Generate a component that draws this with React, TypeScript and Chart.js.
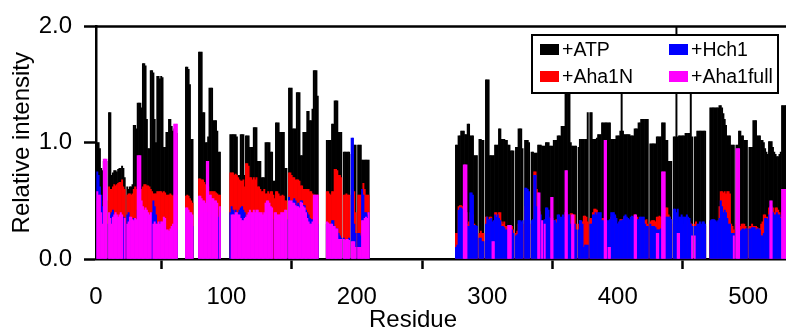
import React, { useEffect, useRef } from 'react';
import { Chart, registerables } from 'chart.js';

Chart.register(...registerables);

const FONT = '"Liberation Sans", Arial, Helvetica, sans-serif';

// Residue numbering of the two assigned segments
const startA = 1;
const startB = 276;

const seriesNames = ['+ATP', '+Aha1N', '+Hch1', '+Aha1full'];
const seriesColors = ['#000000', '#ff0000', '#0000ff', '#ff00ff'];
const xTicks = [0, 100, 200, 300, 400, 500];
const yTicks = [0, 1, 2];

// ---- Segment A : residues 1..209 ----
const atpA = [
  1.00, 1.00, 0.95, 0.78, 0.76, 0.84, 0.84, 0.84, null, 1.26,
  1.26, 0.72, 0.74, 0.76, 0.76, 0.75, 0.77, 0.78, 0.78, 0.80,
  0.78, 0.70, null, 0.62, 0.60, 0.62, 0.62, 0.64, 1.15, 1.15,
  1.12, 1.34, 1.34, 1.34, 1.30, 1.68, 1.68, 1.66, 1.20, 0.95,
  0.95, 1.62, 1.62, 1.60, 1.20, 1.00, 1.57, 1.57, 1.55, 1.57,
  1.56, 0.96, 0.96, 1.09, 1.09, 1.20, 1.20, 1.14, 1.10, 1.12,
  1.10, 1.08, null, null, null, null, null, null, 1.65, 1.65,
  1.63, 1.50, 1.03, 1.03, null, null, null, null, 1.78, 1.78,
  1.78, 1.26, 1.26, 1.00, 1.00, 1.05, 1.47, 1.47, 1.47, 1.19,
  1.19, 1.19, 1.10, 0.92, 0.92, null, null, null, null, null,
  null, null, 1.07, 1.07, 1.07, 1.07, 1.07, 1.05, 0.72, 0.72,
  1.07, 1.07, 1.07, 0.72, 1.06, 1.06, 1.06, 0.96, 0.96, 0.96,
  1.13, 1.13, 1.13, 0.84, 0.84, 0.84, 0.70, 0.70, 0.70, 1.00,
  1.00, 1.00, 1.00, 0.92, 0.92, 0.67, 0.67, 1.17, 1.17, 1.17,
  1.09, 1.09, 1.09, 1.09, 0.78, 0.78, null, 1.47, 1.47, 1.47,
  1.12, 1.12, 1.12, 1.43, 1.43, 1.43, 0.89, 0.89, 1.09, 1.09,
  1.09, 1.27, 1.27, 1.19, 1.19, 1.29, 1.62, 1.62, 1.62, 1.40,
  null, null, null, null, null, null, 1.02, 1.02, 1.02, 1.02,
  1.16, 1.16, 1.36, 1.36, 1.36, 1.09, 1.09, 1.09, null, 0.92,
  0.92, 0.92, 0.92, 0.92, null, 0.90, 0.90, 0.98, 0.98, null,
  0.98, 0.98, 0.98, 0.85, 0.85, 0.85, 0.85, 0.85, 0.85,
];
const aha1nA = [
  0.50, 0.50, 0.45, 0.40, 0.35, 0.50, 0.50, 0.50, null, 0.62,
  0.60, 0.60, 0.62, 0.64, 0.63, 0.64, 0.65, 0.66, 0.66, 0.68,
  0.62, 0.60, null, 0.55, 0.56, 0.56, 0.55, 0.56, 0.60, 0.62,
  0.60, 0.62, 0.62, 0.58, 0.60, 0.62, 0.64, 0.64, 0.63, 0.63,
  0.62, 0.60, 0.58, 0.56, 0.56, 0.56, 0.58, 0.58, 0.58, 0.58,
  0.57, 0.58, 0.57, 0.55, 0.55, 0.55, 0.56, 0.55, 0.54, 0.55,
  0.55, 0.55, null, null, null, null, null, null, 0.54, 0.55,
  0.54, 0.52, 0.50, 0.48, null, null, null, null, 0.69, 0.69,
  0.68, 0.68, 0.66, 0.64, 0.62, 0.62, 0.58, 0.58, 0.58, 0.58,
  0.58, 0.57, 0.56, 0.55, 0.55, null, null, null, null, null,
  null, null, 0.74, 0.74, 0.74, 0.72, 0.73, 0.72, 0.70, 0.68,
  0.67, 0.67, 0.68, 0.62, 0.82, 0.82, 0.80, 0.70, 0.70, 0.68,
  0.70, 0.68, 0.70, 0.62, 0.62, 0.60, 0.58, 0.58, 0.60, 0.56,
  0.56, 0.58, 0.56, 0.58, 0.58, 0.55, 0.52, 0.58, 0.58, 0.56,
  0.54, 0.54, 0.55, 0.54, 0.50, 0.50, null, 0.74, 0.74, 0.72,
  0.70, 0.70, 0.68, 0.68, 0.68, 0.67, 0.63, 0.63, 0.60, 0.60,
  0.60, 0.60, 0.60, 0.58, 0.58, 0.56, 0.55, 0.55, 0.55, 0.55,
  null, null, null, null, null, null, 0.58, 0.58, 0.56, 0.55,
  0.58, 0.58, 0.77, 0.77, 0.76, 0.72, 0.72, 0.70, null, 0.55,
  0.55, 0.56, 0.55, 0.55, null, 0.55, 0.60, 0.58, 0.40, null,
  0.55, 0.55, 0.55, 0.55, 0.65, 0.60, 0.55, 0.55, 0.55,
];
const hch1A = [
  0.75, 0.72, 0.62, 0.55, 0.45, 0.30, 0.30, 0.30, null, 0.30,
  0.38, 0.40, 0.42, 0.35, 0.36, 0.34, 0.35, 0.30, 0.33, 0.30,
  0.36, 0.30, null, 0.38, 0.40, 0.35, 0.32, 0.33, 0.35, 0.30,
  0.32, 0.42, 0.40, 0.45, 0.40, 0.40, 0.40, 0.38, 0.38, 0.36,
  0.36, 0.35, 0.40, 0.50, 0.45, 0.38, 0.28, 0.30, 0.32, 0.30,
  0.30, 0.30, 0.28, 0.22, 0.22, 0.20, 0.20, 0.20, 0.22, 0.25,
  0.25, 0.25, null, null, null, null, null, null, 0.35, 0.33,
  0.30, 0.30, 0.30, 0.28, null, null, null, null, 0.35, 0.35,
  0.38, 0.40, 0.38, 0.38, 0.40, 0.40, 0.40, 0.38, 0.38, 0.36,
  0.35, 0.40, 0.42, 0.36, 0.40, null, null, null, null, null,
  null, null, 0.40, 0.45, 0.42, 0.40, 0.42, 0.38, 0.40, 0.42,
  0.44, 0.45, 0.42, 0.40, 0.36, 0.38, 0.36, 0.40, 0.38, 0.36,
  0.38, 0.36, 0.40, 0.40, 0.38, 0.37, 0.36, 0.36, 0.35, 0.40,
  0.40, 0.38, 0.36, 0.36, 0.34, null, 0.34, 0.33, 0.33, 0.32,
  0.30, 0.32, 0.30, 0.30, 0.32, 0.34, null, 0.53, 0.50, 0.48,
  0.50, 0.52, 0.50, 0.46, 0.48, 0.46, 0.50, 0.50, 0.46, 0.46,
  0.42, 0.40, 0.38, 0.35, 0.34, 0.34, 0.32, 0.32, 0.32, 0.30,
  null, null, null, null, null, null, 0.30, 0.30, 0.28, 0.30,
  0.33, 0.33, 0.28, 0.26, 0.26, 0.22, 0.20, 0.18, null, 0.18,
  0.16, 0.16, 0.15, 0.18, null, 1.04, 1.04, 0.30, 0.22, null,
  0.22, 0.22, 0.20, 0.60, 0.55, 0.40, 0.40, 0.38, 0.40,
];
const aha1fullA = [
  0.58, 0.55, 0.55, 0.40, 0.30, 0.86, 0.86, 0.86, null, 0.40,
  0.35, 0.30, 0.36, 0.38, 0.40, 0.38, 0.36, 0.38, 0.40, 0.38,
  null, 0.35, null, 0.30, 0.32, 0.36, 0.36, 0.34, 0.33, 0.35,
  0.34, 0.89, 0.89, 0.89, 0.50, 0.45, 0.42, 0.44, 0.42, 0.40,
  0.38, 0.40, null, 0.30, 0.32, 0.30, 0.30, 0.32, 0.30, 0.32,
  0.32, 0.36, 0.35, 0.25, 0.25, 0.24, 0.26, 0.28, 0.30, 1.16,
  1.16, 1.16, null, null, null, null, null, null, 0.44, 0.44,
  0.42, 0.40, 0.40, 0.38, null, null, null, null, 0.54, 0.54,
  0.52, 0.50, 0.50, 0.48, 0.84, 0.84, 0.55, 0.55, 0.52, 0.52,
  0.50, 0.50, 0.48, null, 0.45, null, null, null, null, null,
  null, null, null, 0.38, 0.38, 0.38, 0.40, 0.40, 0.38, 0.38,
  0.35, 0.33, 0.33, 0.35, 0.36, 0.38, 0.40, 0.42, 0.40, 0.40,
  0.42, 0.40, 0.42, 0.42, 0.40, 0.40, 0.40, 0.38, 0.40, 0.48,
  0.50, 0.50, 0.48, 0.45, 0.44, null, 0.40, 0.40, 0.38, 0.38,
  0.38, 0.40, 0.40, 0.40, 0.42, 0.42, null, 0.50, 0.50, 0.50,
  0.48, 0.48, 0.46, 0.45, 0.45, 0.44, 0.49, 0.48, 0.45, 0.44,
  0.40, 0.35, 0.32, 0.30, 0.30, 0.32, 0.55, 0.55, 0.55, 0.55,
  null, null, null, null, null, null, 0.32, 0.31, 0.30, 0.30,
  0.30, 0.28, 0.28, 0.26, 0.26, 0.17, 0.17, 0.17, null, 0.17,
  0.16, 0.17, 0.17, 0.16, null, 0.15, 0.15, 0.15, 0.10, null,
  0.10, 0.10, 0.10, 0.33, 0.33, 0.35, 0.36, 0.35, 0.40,
];

// ---- Segment B : residues 276..529 ----
const atpB = [
  0.98, 0.98, 1.06, 1.06, 1.10, 1.10, 1.10, 1.07, 1.07, 1.16,
  1.16, 1.06, 1.06, 1.06, 0.89, 0.89, 0.89, null, 1.03, 1.03,
  1.02, 1.02, null, 1.54, 1.54, 1.54, 0.89, 0.89, 0.89, 0.89,
  0.98, 0.98, 0.98, 1.12, 1.12, 1.03, 1.03, 1.03, 1.02, 1.02,
  0.98, 0.98, 0.93, 0.93, 0.93, null, 0.96, 0.96, 1.12, 1.12,
  1.12, 0.95, null, 1.02, 1.02, 1.02, 1.00, null, 0.92, 0.92,
  0.91, 0.91, 0.91, 0.98, 0.98, 0.98, 0.97, 0.97, 0.97, 1.00,
  1.00, 1.00, 0.97, 0.97, 0.97, 1.02, 1.02, 1.02, 1.06, 1.06,
  1.06, 1.14, 1.14, 1.14, 1.50, 1.50, 1.80, 1.50, 1.00, 0.97,
  0.97, 0.97, 0.97, null, 0.96, 1.03, 1.03, 1.03, 1.03, 1.03,
  1.03, 1.26, null, 1.26, 1.26, 1.03, 1.03, 1.03, 1.04, 1.07,
  1.07, 1.07, 1.17, 1.17, 1.17, 1.17, 1.17, 1.17, 1.17, 1.03,
  1.03, 1.03, 1.03, 1.06, 1.06, 1.06, 1.10, 1.70, 1.10, 1.07,
  1.07, 1.07, 1.07, 1.07, 1.06, 1.06, 1.06, 1.12, 1.12, 1.12,
  1.17, 1.17, 1.20, 1.20, 1.20, 1.20, 1.20, 1.20, null, 0.99,
  0.99, 0.99, 0.99, 0.99, 1.05, 1.05, 1.05, 1.05, 1.17, 1.17,
  1.17, 1.02, 1.02, 0.84, 0.84, 0.84, null, 1.05, 1.05, 2.10,
  1.05, 1.06, 1.06, 1.06, 1.06, 1.06, 1.08, 1.08, 1.08, 1.08,
  1.70, 1.05, null, 1.05, 1.05, 1.10, 1.10, 1.10, 1.10, 1.10,
  1.10, 1.10, null, null, null, 1.30, 1.30, 1.30, 1.30, 1.30,
  1.30, 1.30, 1.32, 1.32, 1.30, 1.25, 1.20, 1.15, 1.06, 1.06,
  1.06, 0.98, 0.98, 0.98, null, 0.98, 0.98, 1.10, 1.10, 1.06,
  1.06, 1.02, 1.02, 1.02, null, 0.96, 0.96, 0.96, 1.19, 1.19,
  1.19, 1.06, 1.06, 1.06, 1.02, 1.02, 1.00, 0.95, 0.92, 0.90,
  1.01, 1.01, 1.01, 0.96, 0.92, 0.90, 0.88, 0.88, 0.90, 0.92,
  1.32, 1.32, 1.32, 1.32,
];
const aha1nB = [
  0.22, 0.22, 0.45, 0.46, 0.46, 0.45, 0.38, 0.38, 0.40, 0.30,
  0.32, 0.40, 0.40, 0.38, 0.30, 0.28, 0.26, null, 0.22, 0.24,
  0.22, 0.22, null, 0.36, 0.36, 0.34, 0.36, 0.36, 0.30, 0.30,
  0.40, 0.40, 0.38, 0.40, 0.40, 0.32, 0.30, 0.32, 0.28, 0.28,
  0.25, 0.26, 0.28, 0.28, 0.25, null, 0.22, 0.24, 0.30, 0.30,
  0.28, 0.30, null, 0.45, 0.45, 0.45, 0.45, null, 0.30, 0.30,
  0.75, 0.75, 0.60, 0.40, 0.40, 0.30, 0.30, 0.32, 0.30, 0.38,
  0.36, 0.36, 0.30, 0.28, 0.30, 0.33, 0.33, 0.34, 0.30, 0.30,
  0.28, 0.30, 0.32, 0.30, 0.40, 0.40, 0.36, 0.38, 0.39, 0.39,
  0.38, 0.38, 0.30, null, 0.30, 0.33, 0.32, 0.32, 0.37, 0.37,
  0.36, 0.32, null, 0.35, 0.35, 0.40, 0.43, 0.43, 0.42, 0.33,
  0.33, 0.34, 0.35, 0.35, 0.35, 0.35, 0.30, 0.28, 0.28, 0.36,
  0.37, 0.36, 0.37, 0.30, 0.30, 0.30, 0.34, 0.34, 0.34, 0.36,
  0.36, 0.35, 0.30, 0.30, 0.32, 0.36, 0.36, 0.38, 0.37, 0.36,
  0.32, 0.34, 0.35, 0.32, 0.33, 0.33, 0.34, 0.30, null, 0.32,
  0.33, 0.33, 0.33, 0.32, 0.36, 0.36, 0.37, 0.36, 0.30, 0.30,
  0.32, 0.44, 0.44, 0.38, 0.36, 0.34, null, 0.30, 0.32, 0.32,
  0.30, 0.30, 0.28, 0.28, 0.28, 0.30, 0.33, 0.33, 0.32, 0.32,
  0.30, 0.30, null, 0.30, 0.32, 0.28, 0.28, 0.27, 0.27, 0.28,
  0.28, 0.28, null, null, null, 0.32, 0.33, 0.33, 0.32, 0.30,
  0.30, 0.31, 0.45, 0.58, 0.58, 0.57, 0.58, 0.56, 0.58, 0.58,
  0.56, 0.30, 0.28, 0.25, null, 0.30, 0.30, 0.30, 0.28, 0.30,
  0.30, 0.30, 0.28, 0.26, null, 0.28, 0.28, 0.30, 0.28, 0.28,
  0.28, 0.27, 0.26, 0.26, 0.30, 0.32, 0.38, 0.38, 0.36, 0.36,
  0.44, 0.44, 0.44, 0.44, 0.40, 0.44, 0.44, 0.42, 0.40, 0.36,
  0.30, 0.32, 0.32, 0.32,
];
const hch1B = [
  0.10, 0.12, 0.42, 0.44, 0.44, 0.43, 0.40, 0.40, 0.40, 0.28,
  0.28, 0.57, 0.57, 0.55, 0.29, 0.29, 0.28, null, 0.18, 0.18,
  0.15, 0.15, null, 0.30, 0.36, 0.34, 0.34, 0.35, 0.32, 0.33,
  0.38, 0.36, 0.38, 0.35, 0.33, 0.28, 0.28, 0.27, 0.25, 0.25,
  0.22, 0.22, 0.25, 0.25, 0.22, null, 0.20, 0.21, 0.33, 0.33,
  0.32, 0.33, null, 0.61, 0.61, 0.60, 0.58, null, 0.33, 0.34,
  0.72, 0.72, 0.45, 0.41, 0.41, 0.38, 0.32, 0.33, 0.34, 0.44,
  0.44, 0.42, 0.35, 0.34, 0.35, 0.33, 0.33, 0.31, 0.38, 0.38,
  0.36, 0.36, 0.38, 0.36, 0.40, 0.40, 0.38, 0.38, 0.30, 0.30,
  0.28, 0.30, 0.25, null, 0.25, 0.33, 0.33, 0.30, 0.10, 0.12,
  0.12, 0.12, null, 0.30, 0.30, 0.38, 0.38, 0.40, 0.38, 0.40,
  0.40, 0.40, 0.33, 0.33, 0.32, 0.32, 0.33, 0.33, 0.34, 0.40,
  0.40, 0.40, 0.38, 0.35, 0.30, 0.32, 0.33, 0.33, 0.34, 0.37,
  0.38, 0.36, 0.35, 0.34, 0.36, 0.37, 0.36, 0.35, 0.36, 0.34,
  0.34, 0.36, 0.36, 0.36, 0.36, 0.30, 0.28, 0.28, null, 0.30,
  0.28, 0.28, 0.28, 0.27, 0.25, 0.25, 0.25, 0.26, 0.30, 0.30,
  0.32, 0.36, 0.36, 0.36, 0.36, 0.34, null, 0.43, 0.43, 0.40,
  0.43, 0.36, 0.36, 0.38, 0.36, 0.36, 0.36, 0.38, 0.36, 0.35,
  0.30, 0.28, null, 0.28, 0.28, 0.30, 0.30, 0.32, 0.30, 0.32,
  0.32, 0.30, null, null, null, 0.33, 0.34, 0.34, 0.34, 0.33,
  0.32, 0.33, 0.35, 0.50, 0.45, 0.40, 0.42, 0.40, 0.35, 0.30,
  0.30, 0.22, 0.22, 0.22, null, 0.25, 0.25, 0.25, 0.24, 0.25,
  0.26, 0.25, 0.26, 0.26, null, 0.26, 0.26, 0.27, 0.27, 0.27,
  0.25, 0.26, 0.26, 0.25, 0.20, 0.20, 0.22, 0.35, 0.35, 0.34,
  0.38, 0.45, 0.45, 0.40, 0.38, 0.38, 0.40, 0.38, 0.38, 0.35,
  0.30, 0.30, 0.30, 0.30,
];
const aha1fullB = [
  null, null, null, null, null, null, 0.81, 0.81, 0.81, null,
  null, null, null, null, null, null, null, null, null, null,
  null, null, null, null, null, null, null, null, 0.15, 0.15,
  null, null, null, null, null, null, null, null, null, null,
  0.29, 0.29, 0.29, null, null, null, null, null, null, null,
  null, null, null, null, null, null, null, null, null, null,
  null, null, null, 0.57, 0.57, null, 0.33, null, 0.30, null,
  null, null, null, 0.53, 0.53, null, null, null, null, null,
  null, null, null, null, 0.76, 0.76, null, null, null, 0.38,
  0.38, null, null, null, null, null, null, null, null, null,
  null, null, null, null, null, null, null, null, null, null,
  null, null, null, null, 1.02, 1.02, null, 0.10, 0.10, null,
  null, null, null, null, null, null, null, null, null, null,
  null, null, null, null, null, null, null, 0.38, 0.38, null,
  null, null, null, null, null, null, null, null, null, null,
  null, null, null, null, 0.22, 0.22, null, null, 0.75, 0.75,
  0.75, null, null, null, null, null, null, null, null, null,
  0.22, 0.22, null, null, null, null, null, null, null, null,
  null, 0.20, null, 0.20, null, null, null, null, null, null,
  null, null, null, null, null, null, null, null, null, null,
  null, null, null, null, null, null, null, null, null, null,
  null, null, null, 0.20, null, 0.95, 0.95, 0.95, null, null,
  null, null, null, null, null, null, null, null, null, null,
  null, null, null, null, null, null, null, null, null, null,
  null, 0.50, 0.50, null, null, null, null, null, null, null,
  0.60, 0.60, 0.60, 0.60,
];

type Pt = { x: number; y: number | null };

function toPoints(a: (number | null)[], sa: number, b: (number | null)[], sb: number): Pt[] {
  const pts: Pt[] = [];
  a.forEach((v, i) => pts.push({ x: sa + i, y: v }));
  b.forEach((v, i) => pts.push({ x: sb + i, y: v }));
  return pts;
}

const overlayPlugin = {
  id: 'overlay',
  afterDraw(chart: any) {
    const ctx = chart.ctx as CanvasRenderingContext2D;
    const area = chart.chartArea;
    ctx.save();
    // top frame line
    ctx.strokeStyle = '#000';
    ctx.lineWidth = 2.5;
    ctx.beginPath();
    ctx.moveTo(area.left, area.top);
    ctx.lineTo(chart.width, area.top);
    ctx.stroke();

    // x axis title
    ctx.fillStyle = '#000';
    ctx.font = `24px ${FONT}`;
    ctx.textAlign = 'center';
    ctx.textBaseline = 'alphabetic';
    ctx.fillText('Residue', 413, 327);

    // legend box
    const bx = 532, by = 35, bw = 246, bh = 58;
    ctx.fillStyle = '#fff';
    ctx.fillRect(bx, by, bw, bh);
    ctx.lineWidth = 2;
    ctx.strokeStyle = '#000';
    ctx.strokeRect(bx, by, bw, bh);
    const colX = [540, 669];
    const rowY = [49.5, 76.5];
    const order = [[0, 0], [1, 0], [0, 1], [1, 1]]; // [row, col] per series
    ctx.font = `19.5px ${FONT}`;
    ctx.textAlign = 'left';
    ctx.textBaseline = 'middle';
    chart.data.datasets.forEach((ds: any, i: number) => {
      const [row, col] = order[i];
      const sx = colX[col];
      const sy = rowY[row];
      ctx.fillStyle = ds.backgroundColor;
      ctx.fillRect(sx, sy - 5.5, 19, 11);
      ctx.fillStyle = '#000';
      ctx.fillText(ds.label, sx + 22, sy + 1);
    });
    ctx.restore();
  },
};

export default function App() {
  const canvasRef = useRef<HTMLCanvasElement | null>(null);

  useEffect(() => {
    if (!canvasRef.current) return;
    const seriesA = [atpA, aha1nA, hch1A, aha1fullA];
    const seriesB = [atpB, aha1nB, hch1B, aha1fullB];
    const datasets = seriesNames.map((name, i) => ({
      label: name,
      data: toPoints(seriesA[i], startA, seriesB[i], startB),
      backgroundColor: seriesColors[i],
      borderWidth: 0,
      barPercentage: 1,
      categoryPercentage: 1,
      grouped: false,
      order: 4 - i,
    }));

    const axisGrid = (len: number) => ({
      display: true,
      drawOnChartArea: false,
      drawTicks: true,
      tickLength: len,
      tickWidth: 2.5,
      tickColor: '#000',
    });

    const chart = new Chart(canvasRef.current, {
      type: 'bar',
      data: { datasets: datasets as any },
      plugins: [overlayPlugin],
      options: {
        animation: false,
        responsive: false,
        maintainAspectRatio: false,
        layout: { padding: { top: 22, left: 0, right: 0, bottom: 0 } },
        plugins: { legend: { display: false }, tooltip: { enabled: false } },
        scales: {
          x: {
            type: 'linear',
            min: 0,
            max: 529,
            offset: false,
            grid: axisGrid(10),
            border: { display: true, color: '#000', width: 2.5 },
            ticks: {
              color: '#000',
              font: { family: FONT, size: 24 },
              padding: 14,
              maxRotation: 0,
              autoSkip: false,
              callback: (v: any) => String(v),
            },
            afterBuildTicks: (s: any) => {
              s.ticks = xTicks.map((v) => ({ value: v }));
            },
            afterFit: (s: any) => {
              s.height = 70;
            },
          },
          y: {
            min: 0,
            max: 2,
            grid: axisGrid(12),
            border: { display: true, color: '#000', width: 2.5 },
            ticks: {
              color: '#000',
              font: { family: FONT, size: 24 },
              padding: 12,
              callback: (v: any) => Number(v).toFixed(1),
            },
            afterBuildTicks: (s: any) => {
              s.ticks = yTicks.map((v) => ({ value: v }));
            },
            title: {
              display: true,
              text: 'Relative intensity',
              color: '#000',
              font: { family: FONT, size: 24 },
              padding: { top: 8, bottom: 0 },
            },
            afterFit: (s: any) => {
              s.width = 96;
            },
          },
        },
      } as any,
    });
    return () => chart.destroy();
  }, []);

  return (
    <div style={{ position: 'absolute', left: 0, top: 0, width: 786, height: 329, background: '#fff' }}>
      <canvas ref={canvasRef} width={786} height={329} style={{ width: 786, height: 329, display: 'block' }} />
    </div>
  );
}
